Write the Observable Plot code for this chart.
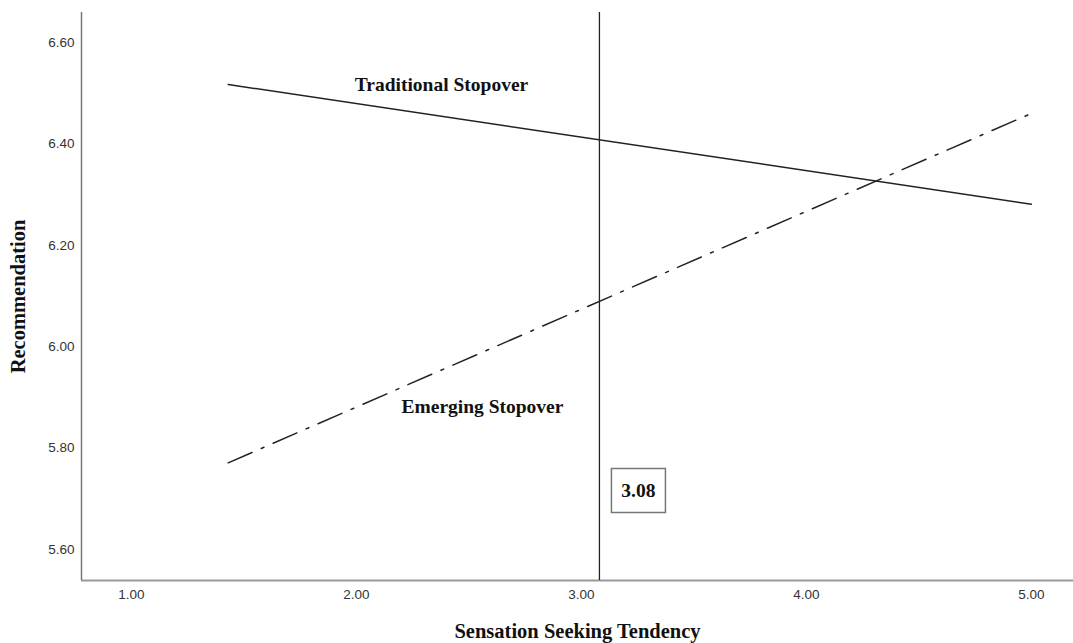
<!DOCTYPE html>
<html>
<head>
<meta charset="utf-8">
<script src="https://cdn.jsdelivr.net/npm/d3@7"></script>
<script src="https://cdn.jsdelivr.net/npm/@observablehq/plot@0.6"></script>
<style>
  html, body { margin: 0; padding: 0; background: #fff; }
  #chart svg { display: block; }
</style>
</head>
<body>
<div id="chart"></div>
<script>
// ---- data ----
const xTicks = [1, 2, 3, 4, 5];
const yTicks = [5.6, 5.8, 6.0, 6.2, 6.4, 6.6];
const traditionalX = [1.43, 5.00];
const traditionalY = [6.517, 6.281];
const emergingX = [1.43, 5.00];
const emergingY = [5.771, 6.460];
const thresholdValue = [3.08];
const seriesLabels = ["Traditional Stopover", "Emerging Stopover"];
const labelX = [2.378, 2.56];
const labelY = [6.517, 5.881];
const xTitle = "Sensation Seeking Tendency";
const yTitle = "Recommendation";

const traditional = traditionalX.map((x, i) => ({x, y: traditionalY[i]}));
const emerging = emergingX.map((x, i) => ({x, y: emergingY[i]}));
const labels = seriesLabels.map((t, i) => ({t, x: labelX[i], y: labelY[i]}));

const xDomain = [0.778, 5.187];
const yDomain = [5.539, 6.659];
const fmt = d3.format(".2f");
const serif = "'Liberation Serif', 'Times New Roman', serif";
const sans = "'Liberation Sans', Arial, sans-serif";

const boxSymbol = { draw(ctx) { ctx.rect(-27, -22, 54, 44); } };

const chart = Plot.plot({
  width: 1073,
  height: 643,
  marginLeft: 81,
  marginRight: 0,
  marginTop: 12,
  marginBottom: 63,
  x: { domain: xDomain },
  y: { domain: yDomain },
  style: { background: "#fff", fontSize: "13.5px", fontFamily: sans },
  marks: [
    Plot.axisX({ ticks: xTicks, tickFormat: fmt, tickSize: 0, tickPadding: 9, label: null, fill: "#333" }),
    Plot.axisY({ ticks: yTicks, tickFormat: fmt, tickSize: 0, tickPadding: 7, label: null, fill: "#333" }),
    Plot.ruleY([yDomain[0]], { stroke: "#999", strokeWidth: 2 }),
    Plot.ruleX([xDomain[0]], { stroke: "#777", strokeWidth: 1.5 }),
    Plot.ruleX(thresholdValue, { stroke: "#222", strokeWidth: 1.3 }),
    Plot.line(traditional, { x: "x", y: "y", stroke: "#222", strokeWidth: 1.5 }),
    Plot.line(emerging, { x: "x", y: "y", stroke: "#222", strokeWidth: 1.5, strokeDasharray: "26,10,3,10" }),
    Plot.text(labels, { x: "x", y: "y", text: "t", fontFamily: serif, fontWeight: "bold", fontSize: 19.5, fill: "#111" }),
    Plot.dot(thresholdValue, { x: d => d, frameAnchor: "bottom", dx: 39, dy: -90, symbol: boxSymbol,
                               stroke: "#777", strokeWidth: 1.5, fill: "none" }),
    Plot.text(thresholdValue, { x: d => d, text: d => fmt(d), frameAnchor: "bottom", lineAnchor: "middle", dx: 39, dy: -90,
                                fontFamily: serif, fontWeight: "bold", fontSize: 19.5, fill: "#111" }),
    Plot.text([xTitle], { text: d => d, frameAnchor: "bottom", lineAnchor: "middle", textAnchor: "middle", dy: 51,
                          fontFamily: serif, fontWeight: "bold", fontSize: 20.5, fill: "#111" }),
    Plot.text([yTitle], { text: d => d, frameAnchor: "left", lineAnchor: "middle", textAnchor: "middle", dx: -63, rotate: -90,
                          fontFamily: serif, fontWeight: "bold", fontSize: 20.5, fill: "#111" })
  ]
});
document.getElementById("chart").appendChild(chart);
</script>
</body>
</html>
